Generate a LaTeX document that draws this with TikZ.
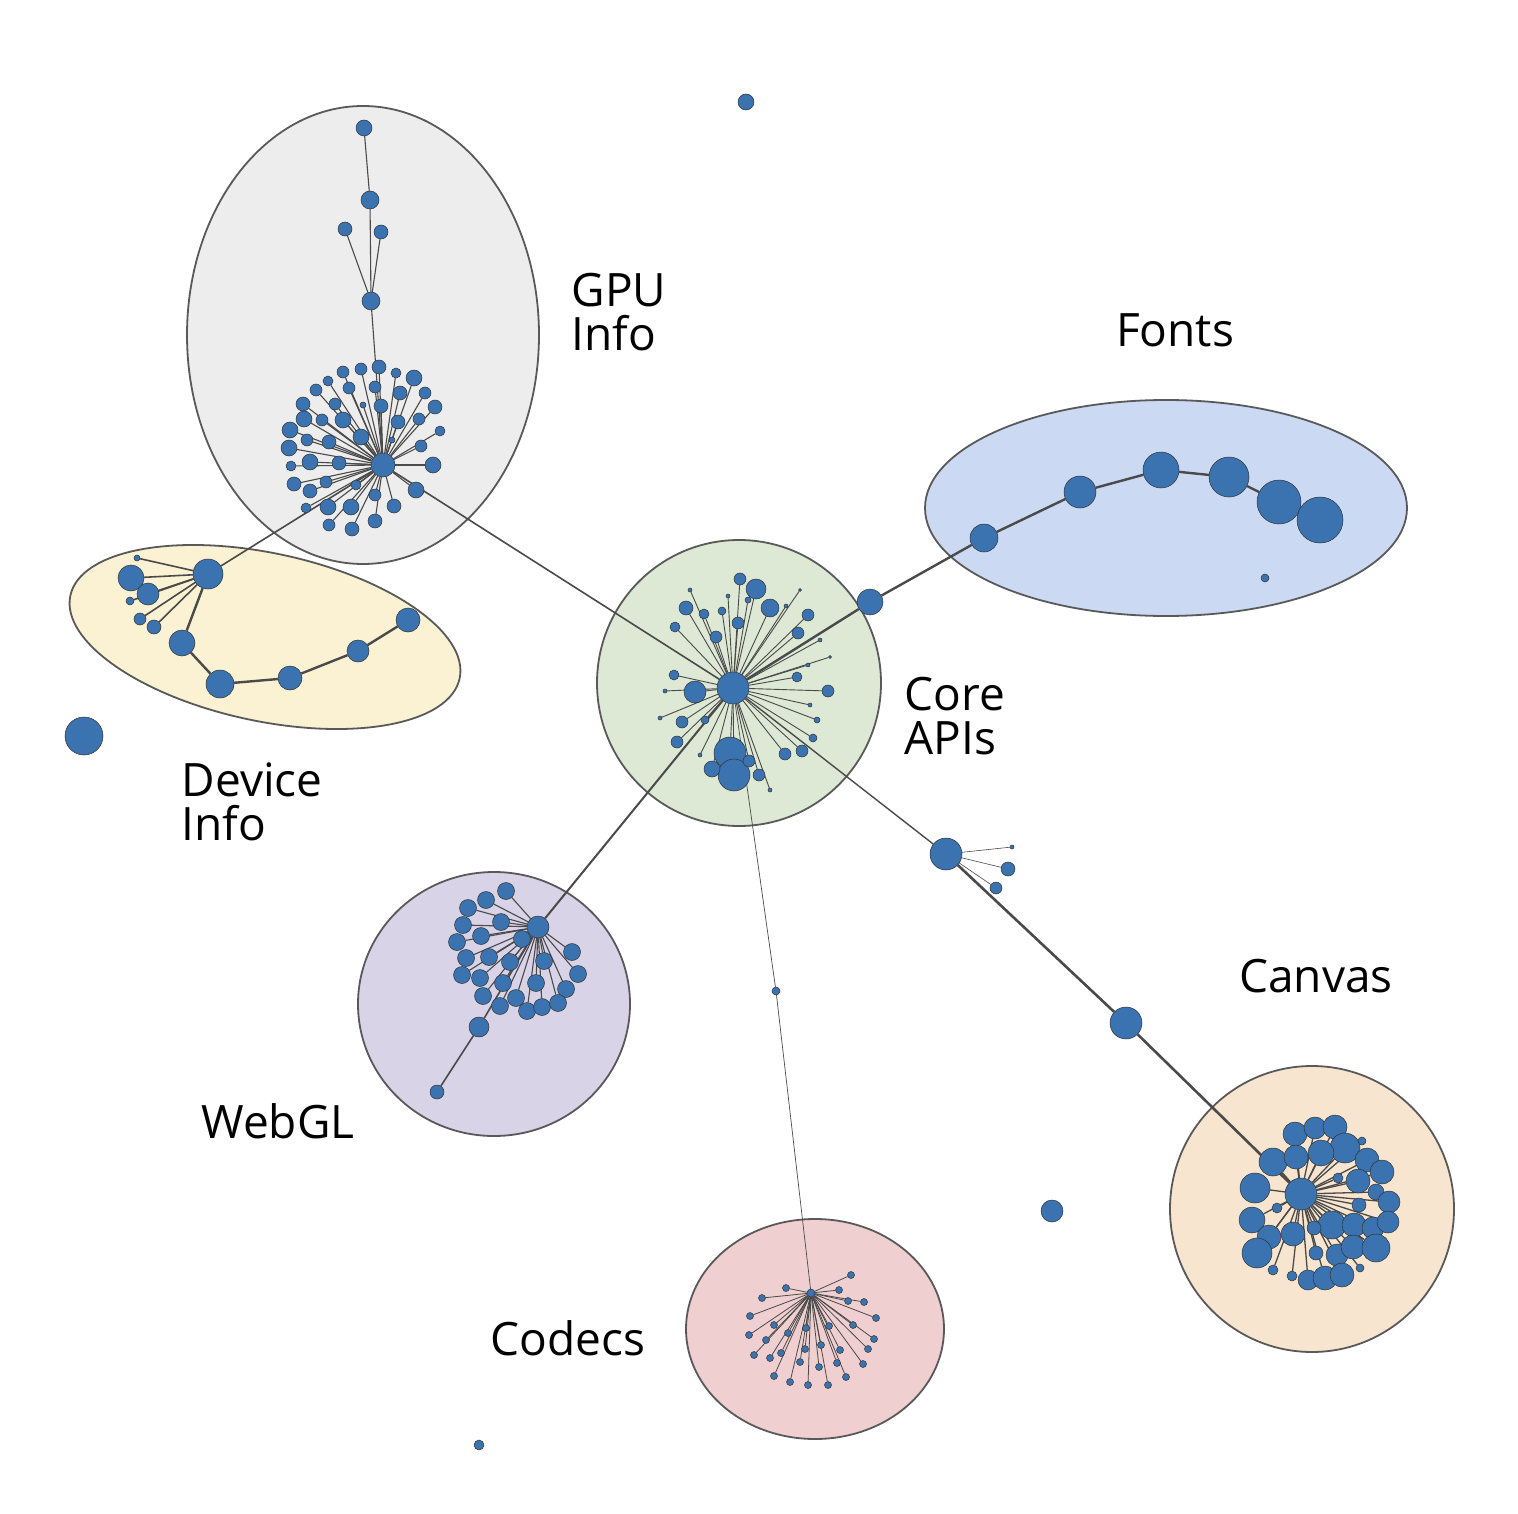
\documentclass[tikz,border=0pt]{standalone}
\usepackage{fontspec}
\setmainfont{Open Sans}
\pgfdeclarelayer{bg}\pgfdeclarelayer{edges}
\pgfsetlayers{bg,edges,main}
\definecolor{nodeblue}{HTML}{3A73B0}
\definecolor{edgec}{HTML}{4A4A4A}
\begin{document}
\begin{tikzpicture}[x=1pt,y=-1pt,
 dot/.style={circle,fill=nodeblue,draw=black!80,line width=0.5pt,inner sep=0pt},
 e/.style={draw=edgec,line width=1.1pt},
 te/.style={draw=edgec,line width=2.6pt},
 grp/.style={draw=black!65,line width=1.8pt},
 lab/.style={font=\fontsize{46}{52}\selectfont,align=left}]
\useasboundingbox (0,0) rectangle (1518,1514);
\begin{pgfonlayer}{bg}
\filldraw[grp,fill=black!7] (363,335) ellipse [x radius=176,y radius=229];
\filldraw[grp,fill={rgb,255:red,251;green,241;blue,211},rotate around={-12:(265,637)}] (265,637) ellipse [x radius=199,y radius=84];
\filldraw[grp,fill={rgb,255:red,203;green,217;blue,243}] (1166,508) ellipse [x radius=241,y radius=108];
\filldraw[grp,fill={rgb,255:red,221;green,232;blue,213}] (739,683) ellipse [x radius=142,y radius=143];
\filldraw[grp,fill={rgb,255:red,216;green,211;blue,230}] (494,1004) ellipse [x radius=136,y radius=132];
\filldraw[grp,fill={rgb,255:red,239;green,207;blue,207}] (815,1329) ellipse [x radius=129,y radius=110];
\filldraw[grp,fill={rgb,255:red,248;green,229;blue,207}] (1312,1209) ellipse [x radius=142,y radius=143];
\end{pgfonlayer}
% labels
\node[lab] at (619,312) {GPU\\[-8pt]Info};
\node[lab] at (1175,330) {Fonts};
\node[lab] at (955,716) {Core\\[-8pt]APIs};
\node[lab] at (252,802) {Device\\[-8pt]Info};
\node[lab] at (1316,976) {Canvas};
\node[lab] at (278,1121) {WebGL};
\node[lab] at (568,1338) {Codecs};
% hubs
\node[dot,minimum size=32] (core) at (733,688) {};
\node[dot,minimum size=24] (gh) at (383,465) {};
\node[dot,minimum size=30] (dh) at (208,574) {};
\node[dot,minimum size=32] (ch) at (1301,1194) {};
\node[dot,minimum size=22] (wh) at (538,927) {};
\node[dot,minimum size=8] (kh) at (811,1293) {};
% isolated
\node[dot,minimum size=16] (i1) at (746,102) {};
\node[dot,minimum size=38] (i2) at (84,736) {};
\node[dot,minimum size=22] (i3) at (1052,1211) {};
\node[dot,minimum size=10] (i4) at (479,1445) {};
\node[dot,minimum size=8] (i5) at (1265,578) {};
% GPU chain
\node[dot,minimum size=18] (g1) at (371,301) {};
\node[dot,minimum size=14] (g2) at (345,229) {};
\node[dot,minimum size=14] (g3) at (381,232) {};
\node[dot,minimum size=18] (g4) at (370,200) {};
\node[dot,minimum size=16] (g5) at (364,128) {};
\begin{pgfonlayer}{edges}
\draw[e] (gh)--(g1) (g1)--(g2) (g1)--(g3) (g1)--(g4)--(g5);
\draw[e,line width=1.6pt] (core)--(gh) (gh)--(dh);
\end{pgfonlayer}
% Fonts chain
\node[dot,minimum size=26] (f0) at (870,602) {};
\node[dot,minimum size=28] (f1) at (984,538) {};
\node[dot,minimum size=32] (f2) at (1080,492) {};
\node[dot,minimum size=36] (f3) at (1161,470) {};
\node[dot,minimum size=40] (f4) at (1229,477) {};
\node[dot,minimum size=44] (f5) at (1279,502) {};
\node[dot,minimum size=46] (f6) at (1320,520) {};
\begin{pgfonlayer}{edges}
\draw[e,line width=2.4pt] (core)--(f0)--(f1)--(f2)--(f3)--(f4)--(f5)--(f6);
\end{pgfonlayer}
% Canvas chain
\node[dot,minimum size=32] (c1) at (946,854) {};
\node[dot,minimum size=32] (c2) at (1126,1023) {};
\node[dot,minimum size=14] (c3) at (1008,869) {};
\node[dot,minimum size=12] (c4) at (996,888) {};
\node[dot,minimum size=4] (c5) at (1012,847) {};
\node[dot,minimum size=8] (k1) at (776,991) {};
\begin{pgfonlayer}{edges}
\draw[e,line width=1.4pt] (core)--(c1);
\draw[te] (c1)--(c2)--(ch);
\draw[e,line width=0.6pt] (c1)--(c3) (c1)--(c4) (c1)--(c5);
\draw[e,line width=0.7pt] (core)--(k1)--(kh);
\draw[e,line width=2pt] (core)--(wh);
\end{pgfonlayer}
% WebGL chain
\node[dot,minimum size=20] (w1) at (479,1027) {};
\node[dot,minimum size=14] (w2) at (437,1092) {};
\begin{pgfonlayer}{edges}\draw[e,line width=1.6pt] (wh)--(w1)--(w2);\end{pgfonlayer}
% Device
\foreach[count=\i] \x/\y/\r in {131/578/13,148/594/11,137/558/3,130/601/4,140/619/6,154/627/7}{
 \node[dot,minimum size=2*\r] (d\i) at (\x,\y) {};
 \begin{pgfonlayer}{edges}\draw[e,line width=1.6pt] (dh)--(d\i);\end{pgfonlayer}}
\node[dot,minimum size=26] (d7) at (182,643) {};
\node[dot,minimum size=28] (d8) at (220,684) {};
\node[dot,minimum size=24] (d9) at (290,678) {};
\node[dot,minimum size=22] (d10) at (358,651) {};
\node[dot,minimum size=24] (d11) at (408,620) {};
\begin{pgfonlayer}{edges}\draw[e,line width=2.4pt] (dh)--(d7)--(d8)--(d9)--(d10)--(d11);\end{pgfonlayer}
% GPU star
\foreach[count=\i] \x/\y/\r in {379/367/7,361/369/6,343/372/6,396/373/5,414/378/8,328/381/5,316/390/6,349/388/6,375/387/6,400/393/7,425/393/6,303/404/7,335/404/6,363/405/3,381/406/7,435/407/7,304/419/8,322/420/6,343/420/8,398/422/7,419/419/6,290/430/8,440/431/5,307/440/6,329/442/7,361/437/8,392/440/3,289/448/8,421/446/6,310/462/8,339/463/7,291/466/5,433/465/8,326/482/6,294/484/7,356/485/5,310/491/7,416/490/8,375/495/6,306/508/5,328/507/8,351/507/8,394/506/7,329/525/6,352/529/7,375/521/7}{
 \node[dot,minimum size=2*\r] (gs\i) at (\x,\y) {};
 \begin{pgfonlayer}{edges}\draw[e] (gh)--(gs\i);\end{pgfonlayer}}
% Core star
\foreach[count=\i] \x/\y/\r in {740/579/6,756/589/10,770/608/9,686/608/7,704/614/5,722/611/4,738/623/6,716/637/6,808/615/6,798/633/6,675/627/5,748/600/3,797/677/5,828/691/6,674/675/5,695/692/11,682/722/6,677/742/6,705/720/4,730/753/16,734/775/16,712/769/8,759/775/6,749/761/6,785/754/6,802/751/6,813/738/4,817/720/3,810/705/2,728/596/2,786/606/2,665/691/2,660/718/2,808/665/2,820/640/2,830/657/1.5,800/590/1.5,690/590/2,700/755/2,770/790/2}{
 \node[dot,minimum size=2*\r] (cs\i) at (\x,\y) {};
 \begin{pgfonlayer}{edges}\draw[e,line width=0.9pt] (core)--(cs\i);\end{pgfonlayer}}
% WebGL star
\foreach[count=\i] \x/\y in {506/891,486/900,468/908,501/922,463/925,481/936,457/942,522/939,572/952,466/958,489/957,510/962,544/961,578/974,462/975,480/978,503/983,536/983,566/989,483/996,516/998,500/1006,527/1011,542/1007,558/1003}{
 \node[dot,minimum size=17] (ws\i) at (\x,\y) {};
 \begin{pgfonlayer}{edges}\draw[e] (wh)--(ws\i);\end{pgfonlayer}}
% Canvas star
\foreach[count=\i] \x/\y/\r in {1295/1134/12,1315/1128/11,1335/1127/12,1345/1148/15,1273/1162/14,1296/1157/12,1321/1153/13,1367/1160/12,1382/1172/12,1358/1181/12,1255/1188/15,1376/1192/8,1389/1202/11,1252/1220/13,1332/1225/14,1354/1225/12,1373/1228/11,1388/1222/11,1269/1237/12,1293/1234/12,1314/1228/7,1257/1253/15,1337/1255/11,1353/1247/12,1376/1248/14,1308/1280/10,1325/1278/12,1342/1275/12,1316/1253/7,1273/1270/5,1292/1276/5,1359/1205/7,1362/1141/4,1338/1178/5,1277/1208/5,1360/1268/4}{
 \node[dot,minimum size=2*\r] (cv\i) at (\x,\y) {};
 \begin{pgfonlayer}{edges}\draw[e,line width=1.3pt] (ch)--(cv\i);\end{pgfonlayer}}
% Codecs star
\foreach[count=\i] \x/\y in {851/1275,786/1288,762/1298,839/1290,848/1301,864/1302,876/1318,750/1316,774/1325,806/1328,829/1326,853/1325,749/1335,766/1340,788/1333,874/1339,781/1353,805/1349,821/1345,840/1350,868/1349,754/1355,770/1358,800/1362,819/1367,837/1363,863/1364,774/1376,790/1382,808/1385,828/1385,846/1377}{
 \node[dot,minimum size=7] (ks\i) at (\x,\y) {};
 \begin{pgfonlayer}{edges}\draw[e,line width=0.8pt] (kh)--(ks\i);\end{pgfonlayer}}
\end{tikzpicture}
\end{document}
